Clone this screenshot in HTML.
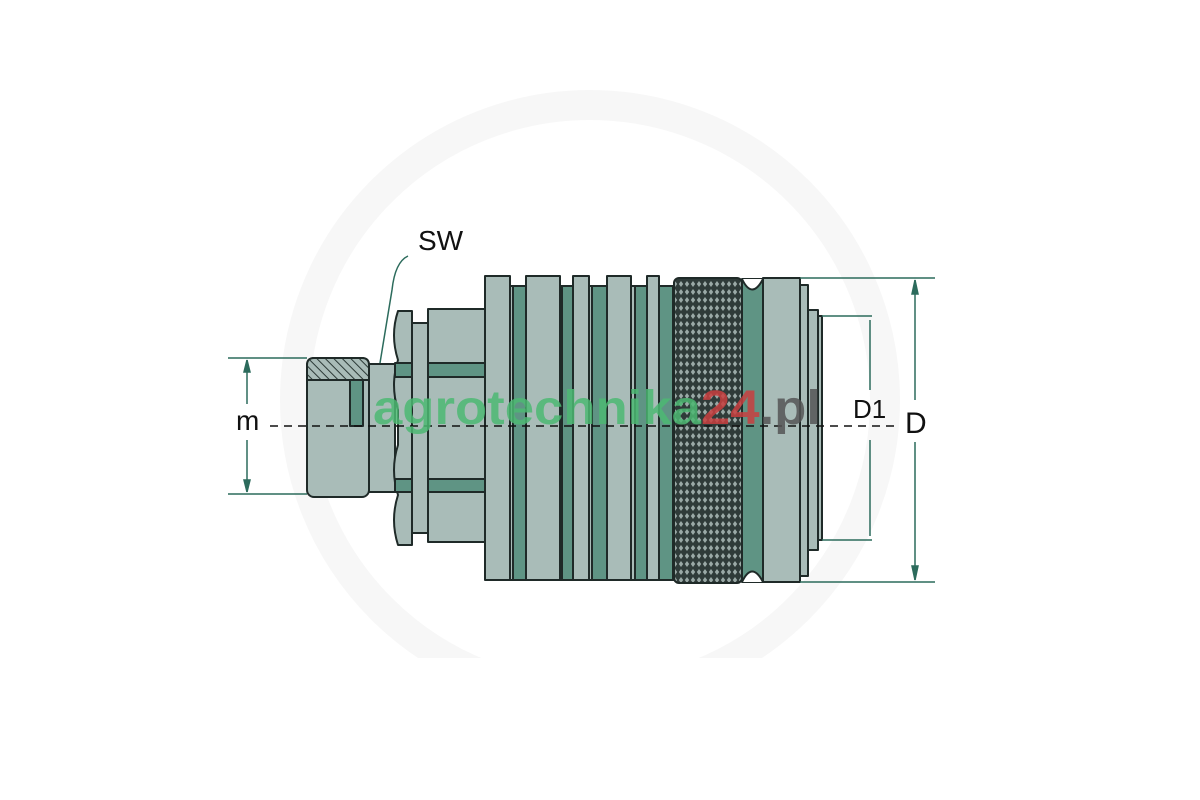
<!DOCTYPE html>
<html><head><style>html,body{margin:0;padding:0;background:#fff;width:1200px;height:800px;overflow:hidden}</style></head>
<body>
<svg width="1200" height="800" viewBox="0 0 1200 800" xmlns="http://www.w3.org/2000/svg">
<defs>
<pattern id="h" width="6" height="6" patternUnits="userSpaceOnUse" patternTransform="rotate(-45)">
<rect width="6" height="6" fill="#a9bcb8"/><line x1="0" y1="0" x2="0" y2="6" stroke="#2d3b38" stroke-width="2"/></pattern>
<pattern id="k" width="6" height="8" patternUnits="userSpaceOnUse">
<rect width="6" height="8" fill="#2f3b39"/><path d="M3 1 L5.2 4 L3 7 L0.8 4Z" fill="#9aa9a6"/></pattern>
</defs>
<!-- watermark ring -->
<circle cx="590" cy="400" r="295" fill="none" stroke="#f7f7f7" stroke-width="30"/>
<rect x="0" y="658" width="1200" height="142" fill="#fff"/>
<g stroke="#1f2a28" stroke-width="2" stroke-linejoin="round">
<rect x="307" y="358" width="62" height="139" rx="7" fill="#a9bcb8"/>
<path d="M307 380 V365 Q307 358 314 358 H362 Q369 358 369 365 V380 Z" fill="url(#h)"/>
<rect x="350" y="380" width="13" height="46" fill="#5f9484"/>
<rect x="369" y="364" width="26" height="128" fill="#a9bcb8"/>
<path d="M398 311 H412 V545 H398 Q390 520 398 495 Q390 470 398 445 V410 Q390 385 398 360 Q390 335 398 311Z" fill="#a9bcb8"/>
<rect x="395" y="363" width="17" height="14" fill="#5f9484"/>
<rect x="395" y="479" width="17" height="13" fill="#5f9484"/>
<rect x="412" y="323" width="16" height="210" fill="#a9bcb8"/>
<rect x="428" y="309" width="59" height="233" fill="#a9bcb8"/>
<rect x="428" y="363" width="59" height="14" fill="#5f9484"/>
<rect x="428" y="479" width="59" height="13" fill="#5f9484"/>
<rect x="487" y="286" width="188" height="294" fill="#a9bcb8"/>
<rect x="513" y="286" width="15" height="294" fill="#5f9484"/>
<rect x="562" y="286" width="15" height="294" fill="#5f9484"/>
<rect x="592" y="286" width="18" height="294" fill="#5f9484"/>
<rect x="635" y="286" width="15" height="294" fill="#5f9484"/>
<rect x="659" y="286" width="14" height="294" fill="#5f9484"/>
<rect x="485" y="276" width="25" height="304" fill="#a9bcb8"/>
<rect x="526" y="276" width="34" height="304" fill="#a9bcb8"/>
<rect x="573" y="276" width="16" height="304" fill="#a9bcb8"/>
<rect x="607" y="276" width="24" height="304" fill="#a9bcb8"/>
<rect x="647" y="276" width="12" height="304" fill="#a9bcb8"/>
<rect x="674" y="278" width="68" height="305" rx="5" fill="url(#k)"/>
<rect x="742" y="279" width="21" height="303" fill="#5f9484"/>
<path d="M742 279 Q752 300 763 279" fill="#fff"/>
<path d="M742 582 Q752 561 763 582" fill="#fff"/>
<rect x="763" y="278" width="37" height="304" fill="#a9bcb8"/>
<rect x="800" y="285" width="8" height="291" fill="#a9bcb8"/>
<rect x="808" y="310" width="10" height="240" fill="#a9bcb8"/>
<rect x="818" y="316" width="4" height="224" fill="#a9bcb8"/>
</g>
<g stroke="#2c6b5c" stroke-width="1.5" fill="#2c6b5c">
<line x1="228" y1="358" x2="307" y2="358"/><line x1="228" y1="494" x2="307" y2="494"/>
<line x1="247" y1="360" x2="247" y2="404"/><line x1="247" y1="440" x2="247" y2="492"/>
<path d="M247 360 l-3 12 h6Z M247 492 l-3 -12 h6Z"/>
<line x1="800" y1="278" x2="935" y2="278"/><line x1="800" y1="582" x2="935" y2="582"/>
<line x1="915" y1="280" x2="915" y2="400"/><line x1="915" y1="442" x2="915" y2="580"/>
<path d="M915 280 l-3 14 h6Z M915 580 l-3 -14 h6Z"/>
<line x1="822" y1="316" x2="872" y2="316"/><line x1="822" y1="540" x2="872" y2="540"/>
<line x1="870" y1="320" x2="870" y2="390"/><line x1="870" y1="440" x2="870" y2="536"/>
<path d="M408 256 Q395 262 392 290 L380 363" fill="none"/>
</g>
<line x1="270" y1="426" x2="895" y2="426" stroke="#111" stroke-width="1.5" stroke-dasharray="8,6"/>
<g font-family="Liberation Sans, sans-serif" fill="#111">
<text x="236" y="430" font-size="28">m</text>
<text x="418" y="250" font-size="28">SW</text>
<text x="853" y="418" font-size="26">D1</text>
<text x="905" y="433" font-size="30">D</text>
</g>
<text x="373" y="424" font-family="Liberation Sans, sans-serif" font-weight="bold" font-size="48" textLength="448" lengthAdjust="spacingAndGlyphs" fill="#4cb872" fill-opacity="0.85">agrotechnika<tspan fill="#c8403f">24</tspan><tspan fill="#555">.pl</tspan></text>
</svg>
</body></html>
